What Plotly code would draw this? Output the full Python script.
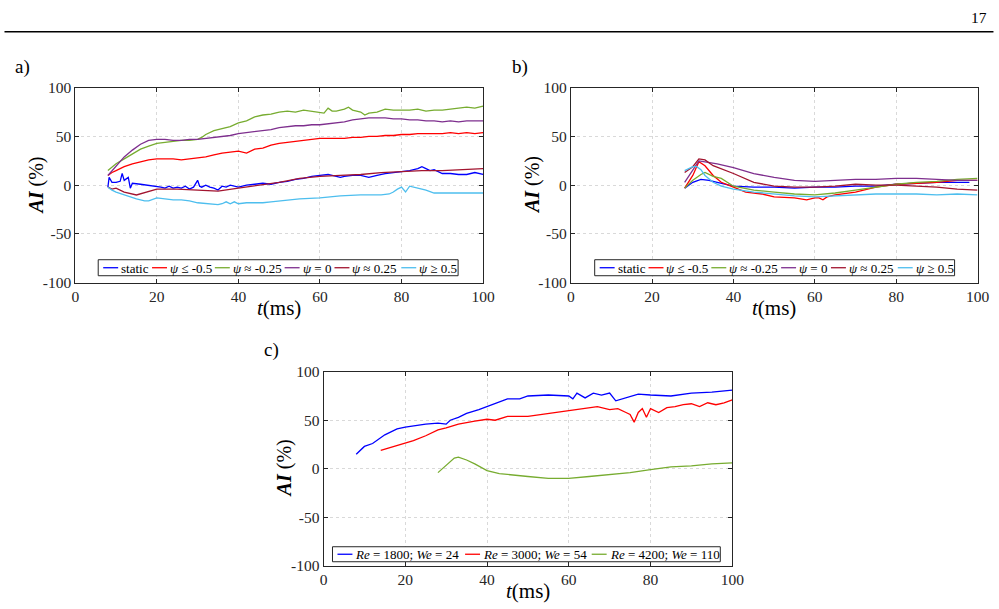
import plotly.graph_objects as go

# ---------------- data ----------------
series_names = ["static", "<i>ψ</i> ≤ -0.5", "<i>ψ</i> ≈ -0.25", "<i>ψ</i> = 0",
                "<i>ψ</i> ≈ 0.25", "<i>ψ</i> ≥ 0.5"]
series_colors = ["#0000ff", "#ff0000", "#77ac30", "#7e2f8e", "#a2142f", "#4dbeee"]

# panel a
a_static_t = [8, 8.3, 9, 10, 11, 11.5, 12, 13, 13.5, 14, 16, 18, 20, 21, 22, 23, 24, 25, 26, 27,
              28, 29, 30, 30.5, 31, 32, 33, 34, 35, 36, 37, 38, 40, 42, 44, 46, 48, 50, 52, 54,
              56, 58, 60, 62, 64, 65, 66, 68, 70, 72, 74, 76, 78, 80, 82, 84, 85, 86, 87, 88,
              90, 92, 94, 96, 98, 100]
a_static_v = [-2, 8, 3, 3, 4, 12, 5, 8, -3, 2, 1, 0, -1, -2, -3, -1, -3, -2, -3, -1,
              -4, -2, 5, -1, -2, 0, -2, -3, -5, -1, -2, 0, -2, 0, 1, 2, 1, 3, 4, 6,
              7, 9, 10, 11, 9, 8, 9, 10, 10, 8, 10, 12, 13, 14, 15, 17, 19, 17, 15, 16,
              12, 12, 11, 11, 13, 11]
a_grid_t = [8, 9, 10, 12, 14, 16, 18, 20, 22, 24, 26, 28, 30, 32, 34, 36, 38, 40, 42, 44,
            46, 48, 50, 52, 54, 56, 58, 60, 62, 64, 66, 68, 70, 72, 74, 76, 78, 80, 82, 84,
            86, 88, 90, 92, 94, 96, 98, 100]
a_neg05_v = [10, 13, 15, 19, 22, 24, 26, 27, 27, 27, 26, 27, 28, 29, 31, 33, 34, 35, 33, 37,
             38, 41, 43, 44, 45, 46, 47, 48, 48, 48, 48, 49, 49, 50, 50, 51, 51, 52, 52, 53,
             53, 53, 53, 54, 53, 54, 53, 54]
a_neg025_t = [8, 9, 10, 12, 14, 16, 18, 20, 22, 24, 26, 28, 30, 31, 32, 34, 36, 38, 40, 42,
              44, 46, 48, 50, 52, 54, 56, 58, 60, 61, 62, 63, 64, 66, 67, 68, 70, 71, 72, 74,
              76, 78, 80, 82, 84, 86, 88, 90, 92, 94, 96, 98, 100]
a_neg025_v = [15, 19, 22, 27, 32, 37, 40, 43, 44, 45, 46, 46, 47, 49, 52, 56, 58, 60, 64, 66,
              70, 72, 73, 75, 76, 75, 77, 76, 75, 74, 79, 76, 76, 78, 80, 77, 75, 72, 74, 75,
              78, 77, 77, 77, 78, 76, 77, 77, 78, 79, 80, 79, 81]
a_zero_v = [10, 15, 20, 29, 36, 42, 46, 47, 47, 46, 46, 47, 47, 48, 49, 50, 51, 53, 54, 55,
            56, 57, 59, 60, 61, 61, 62, 62, 63, 64, 65, 67, 68, 69, 69, 69, 68, 68, 67, 67,
            66, 66, 65, 66, 65, 66, 66, 66]
a_pos025_t = [8, 9, 10, 12, 15, 18, 20, 25, 30, 35, 40, 45, 50, 55, 60, 65, 70, 75, 80, 85,
              90, 95, 100]
a_pos025_v = [-2, -4, -3, -7, -10, -6, -4, -4, -5, -6, -3, 0, 3, 7, 9, 10, 11, 13, 14, 15,
              15, 16, 17]
a_pos05_t = [8, 9, 10, 12, 14, 15, 17, 18, 20, 22, 24, 26, 28, 30, 32, 34, 35, 36, 37, 38,
             39, 40, 42, 44, 46, 48, 50, 55, 60, 65, 70, 75, 77, 78, 79, 80, 81, 82, 84, 86,
             88, 90, 95, 100]
a_pos05_v = [-2, -5, -7, -10, -13, -14, -16, -16, -13, -14, -15, -15, -16, -18, -19, -20, -20, -19, -17, -19,
             -17, -19, -18, -18, -18, -17, -16, -14, -13, -11, -10, -10, -9, -7, -4, -2, -7, -1, -3, -5,
             -8, -8, -8, -8]

# panel b
b_static_t = [28, 30, 32, 34, 36, 38, 40, 45, 50, 55, 60, 65, 70, 75, 80, 85, 90, 95, 98]
b_static_v = [-3, 3, 6, 5, 3, 1, -1, -2, -2, -3, -2, -2, -1, -1, 1, 2, 3, 3, 3]
b_neg05_t = [28, 30, 31.5, 33, 35, 37, 40, 43, 47, 50, 55, 58, 60, 61, 62, 63, 65, 70, 75, 80,
             85, 90, 95, 100]
b_neg05_v = [-3, 10, 24, 20, 10, 3, -2, -7, -9, -12, -13, -15, -13, -13, -15, -12, -10, -7, -2, 1,
             2, 3, 5, 5]
b_neg025_t = [28, 30, 32, 33, 35, 37, 40, 45, 50, 55, 60, 65, 70, 75, 80, 85, 90, 95, 100]
b_neg025_v = [-3, 5, 11, 13, 9, 7, -1, -5, -7, -9, -10, -8, -5, -2, 1, 3, 4, 6, 7]
b_zero_t = [28, 30, 31.5, 33, 36, 40, 45, 50, 55, 60, 65, 70, 75, 80, 85, 90, 95, 100]
b_zero_v = [3, 15, 25, 24, 22, 18, 12, 8, 5, 4, 5, 6, 6, 7, 7, 6, 5, 5]
b_pos025_t = [28, 30, 31.5, 33, 35, 40, 45, 50, 55, 60, 65, 70, 75, 80, 85, 90, 95, 100]
b_pos025_v = [13, 19, 27, 26, 20, 12, 3, -1, -2, -2, -1, 1, 0, 0, -1, -2, -4, -5]
b_pos05_t = [28, 30, 31, 32, 33, 35, 37, 40, 45, 50, 55, 60, 65, 70, 75, 80, 85, 90, 95, 100]
b_pos05_v = [15, 19, 19, 16, 10, 3, -1, -4, -7, -9, -11, -12, -11, -10, -9, -9, -9, -10, -9, -10]

# panel c
c_names = ["<i>Re</i> = 1800; <i>We</i> = 24", "<i>Re</i> = 3000; <i>We</i> = 54",
           "<i>Re</i> = 4200; <i>We</i> = 110"]
c_colors = ["#0000ff", "#ff0000", "#77ac30"]
c_re1800_t = [8, 10, 12, 15, 18, 20, 25, 28, 30, 31, 33, 35, 38, 40, 43, 45, 48, 50, 55, 60,
              61, 62, 64, 66, 68, 70, 71.5, 73, 75, 77, 80, 85, 90, 95, 100]
c_re1800_v = [15, 23, 26, 35, 41, 43, 46, 47, 46, 50, 53, 57, 61, 64, 69, 72, 72, 75, 76, 75,
              72, 78, 73, 78, 76, 78, 70, 72, 74, 77, 76, 75, 78, 79, 81]
c_re3000_t = [14, 18, 22, 25, 28, 30, 33, 37, 40, 42, 45, 50, 55, 60, 65, 67, 70, 72, 74, 75,
              76, 77, 78, 79, 80, 82, 84, 86, 88, 90, 92, 94, 96, 98, 100]
c_re3000_v = [19, 24, 29, 34, 40, 42, 46, 49, 51, 50, 54, 54, 57, 60, 63, 64, 61, 62, 58, 56,
              48, 58, 62, 53, 62, 58, 63, 64, 66, 67, 64, 68, 66, 68, 71]
c_re4200_t = [28, 30, 32, 33, 35, 37, 40, 43, 45, 50, 55, 60, 65, 70, 75, 80, 85, 90, 95, 100]
c_re4200_v = [-4, 4, 11, 12, 9, 5, -2, -5, -6, -8, -10, -10, -8, -6, -4, -1, 2, 3, 5, 6]

x_ticks = [0, 20, 40, 60, 80, 100]
y_ticks = [-100, -50, 0, 50, 100]
y_tick_labels = ["-100", "-50", "0", "50", "100"]

# ---------------- layout helpers ----------------
W, H = 999, 609
# calibration of the photographed page: photo = S * paper + OFF
SX, OX = 0.987, 2.5
SY, OY = 0.972, 8.3
FONT = "'Liberation Serif', 'DejaVu Serif', serif"
AX = "#262626"


def fx(p):
    # target picture pixel -> paper fraction
    return ((p - OX) / SX) / W


def fy(p):
    return 1 - ((p - OY) / SY) / H


fig = go.Figure()

panel_a = [(a_static_t, a_static_v), (a_grid_t, a_neg05_v), (a_neg025_t, a_neg025_v),
           (a_grid_t, a_zero_v), (a_pos025_t, a_pos025_v), (a_pos05_t, a_pos05_v)]
panel_b = [(b_static_t, b_static_v), (b_neg05_t, b_neg05_v), (b_neg025_t, b_neg025_v),
           (b_zero_t, b_zero_v), (b_pos025_t, b_pos025_v), (b_pos05_t, b_pos05_v)]
panel_c = [(c_re1800_t, c_re1800_v), (c_re3000_t, c_re3000_v), (c_re4200_t, c_re4200_v)]

for (t, v), name, col in zip(panel_a, series_names, series_colors):
    fig.add_trace(go.Scatter(x=t, y=v, mode="lines", name=name, line=dict(color=col, width=1.3),
                             xaxis="x", yaxis="y", showlegend=False))
for (t, v), name, col in zip(panel_b, series_names, series_colors):
    fig.add_trace(go.Scatter(x=t, y=v, mode="lines", name=name, line=dict(color=col, width=1.3),
                             xaxis="x2", yaxis="y2", showlegend=False))
for (t, v), name, col in zip(panel_c, c_names, c_colors):
    fig.add_trace(go.Scatter(x=t, y=v, mode="lines", name=name, line=dict(color=col, width=1.3),
                             xaxis="x3", yaxis="y3", showlegend=False))


def xaxis(dom, anchor):
    return dict(domain=[fx(dom[0]), fx(dom[1])], anchor=anchor, range=[0, 100],
                tickvals=x_ticks, showline=True, mirror="ticks", linecolor=AX, linewidth=1,
                ticks="inside", ticklen=4, tickcolor=AX, showgrid=True, gridcolor="#d9d9d9",
                griddash="dot", gridwidth=1, zeroline=False,
                tickfont=dict(family=FONT, size=15.5, color=AX))


def yaxis(dom, anchor):
    return dict(domain=[fy(dom[1]), fy(dom[0])], anchor=anchor, range=[-100, 100],
                tickvals=y_ticks, ticktext=y_tick_labels, showline=True, mirror="ticks",
                linecolor=AX, linewidth=1,
                ticks="inside", ticklen=4, tickcolor=AX, showgrid=True, gridcolor="#d9d9d9",
                griddash="dot", gridwidth=1, zeroline=False,
                tickfont=dict(family=FONT, size=15.5, color=AX))


A_X, A_Y = (74, 483), (87, 282)
B_X, B_Y = (571, 979), (87, 282)
C_X, C_Y = (323, 733), (371, 565)

shapes = []
annotations = []

# page header
shapes.append(dict(type="line", xref="paper", yref="paper", x0=fx(3), x1=fx(995),
                   y0=fy(31), y1=fy(31), line=dict(color="black", width=1.5)))
annotations.append(dict(text="17", x=fx(991), y=fy(17), xref="paper", yref="paper",
                        xanchor="right", yanchor="middle", showarrow=False,
                        font=dict(family=FONT, size=15.5, color="black")))

# panel labels and axis titles
for lab, lx, ly in [("a)", 12, 66), ("b)", 510, 66), ("c)", 261, 349)]:
    annotations.append(dict(text=lab, x=fx(lx), y=fy(ly), xref="paper", yref="paper",
                            xanchor="left", yanchor="middle", showarrow=False,
                            font=dict(family=FONT, size=19, color="black")))

for (xd, yd) in [(A_X, A_Y), (B_X, B_Y), (C_X, C_Y)]:
    annotations.append(dict(text="<i>t</i>(ms)", x=fx((xd[0] + xd[1]) / 2), y=fy(yd[1] + 25),
                            xref="paper", yref="paper", xanchor="center", yanchor="middle",
                            showarrow=False, font=dict(family=FONT, size=21, color="black")))
    annotations.append(dict(text="<i><b>AI</b></i> (%)", x=fx(xd[0] - 39),
                            y=fy((yd[0] + yd[1]) / 2),
                            xref="paper", yref="paper", xanchor="center", yanchor="middle",
                            textangle=-90, showarrow=False,
                            font=dict(family=FONT, size=20, color="black")))


def add_legend(box_left, box_top, box_w, box_h, line_offsets, names, colors):
    shapes.append(dict(type="rect", xref="paper", yref="paper", layer="above",
                       x0=fx(box_left), x1=fx(box_left + box_w),
                       y0=fy(box_top + box_h), y1=fy(box_top),
                       fillcolor="white", line=dict(color=AX, width=1)))
    yc = box_top + box_h / 2
    for off, nm, col in zip(line_offsets, names, colors):
        x0 = box_left + off
        shapes.append(dict(type="line", xref="paper", yref="paper", layer="above",
                           x0=fx(x0), x1=fx(x0 + 15), y0=fy(yc), y1=fy(yc),
                           line=dict(color=col, width=1.3)))
        annotations.append(dict(text=nm, x=fx(x0 + 16), y=fy(yc + 0.5), xref="paper",
                                yref="paper", xanchor="left", yanchor="middle",
                                showarrow=False,
                                font=dict(family=FONT, size=13, color="black")))


ab_offsets = [5, 54, 117, 187, 237, 304]
add_legend(97, 259, 361, 16, ab_offsets, series_names, series_colors)
add_legend(595, 259, 361, 16, ab_offsets, series_names, series_colors)
add_legend(332, 546, 389, 15, [5, 133, 260], c_names, c_colors)

fig.update_layout(
    width=W, height=H, margin=dict(l=0, r=0, t=0, b=0),
    paper_bgcolor="white", plot_bgcolor="white",
    font=dict(family=FONT, color="black"),
    showlegend=False,
    xaxis=xaxis(A_X, "y"), yaxis=yaxis(A_Y, "x"),
    xaxis2=xaxis(B_X, "y2"), yaxis2=yaxis(B_Y, "x2"),
    xaxis3=xaxis(C_X, "y3"), yaxis3=yaxis(C_Y, "x3"),
    shapes=shapes, annotations=annotations,
)

fig.write_html("out.html")
